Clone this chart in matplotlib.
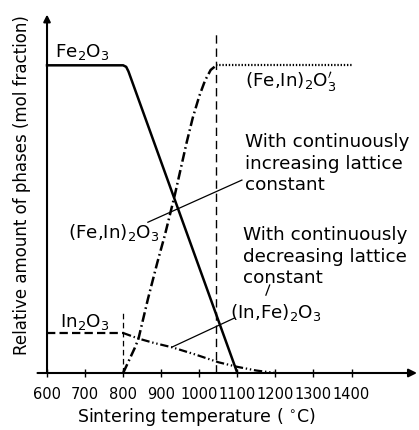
import matplotlib
matplotlib.use('Agg')
import matplotlib.pyplot as plt

plt.rcParams['font.family'] = ['DejaVu Sans']
plt.rcParams['lines.scale_dashes'] = False

# -- data -- #

temp_fe2o3 = [600, 800, 808, 814, 1100]
frac_fe2o3 = [1.0, 1.0, 0.995, 0.98, 0.0]

temp_ss = [800, 815, 830, 840, 865, 890, 910, 936, 967, 983, 1000, 1015, 1030, 1045]
frac_ss = [0.0, 0.04, 0.08, 0.11, 0.24, 0.36, 0.45, 0.58, 0.75, 0.83, 0.90, 0.95, 0.985, 1.0]

temp_ss_top = [1045, 1400]
frac_ss_top = [1.0, 1.0]

temp_in2o3 = [600, 800]
frac_in2o3 = [0.13, 0.13]

temp_in_dec = [800, 840, 880, 930, 990, 1050, 1100, 1150, 1200]
frac_in_dec = [0.13, 0.112, 0.098, 0.083, 0.06, 0.035, 0.02, 0.008, 0.0]

xticks = [600, 700, 800, 900, 1000, 1100, 1200, 1300, 1400]

# ------------------------------ #

fig = plt.figure(figsize=(4.19, 4.30), dpi=100)
ax = fig.add_axes([37.5 / 419, 57 / 430, 379.5 / 419, 360 / 430])
ax.set_xlim(575, 1572)
ax.set_ylim(0, 1.17)
for s in ax.spines.values():
    s.set_visible(False)

# axes with arrows
ax.annotate('', xy=(1572, 0), xytext=(575, 0),
            arrowprops=dict(arrowstyle='-|>', lw=1.5, color='k', mutation_scale=12,
                            shrinkA=0, shrinkB=0))
ax.annotate('', xy=(600, 1.165), xytext=(600, 0),
            arrowprops=dict(arrowstyle='-|>', lw=1.5, color='k', mutation_scale=10,
                            shrinkA=0, shrinkB=0))

ax.set_xticks(xticks)
ax.set_xticklabels([str(t) for t in xticks])
ax.set_yticks([])
ax.tick_params(axis='x', direction='inout', length=6, width=1, pad=7, labelsize=10.5)

# curves
ax.plot(temp_fe2o3, frac_fe2o3, color='k', lw=1.8)
ax.plot(temp_ss, frac_ss, color='k', lw=1.8, linestyle=(0, (7, 2.5, 1.2, 2.5)))
ax.plot(temp_ss_top, frac_ss_top, color='k', lw=1.6, linestyle=(0, (1, 1.3)))
ax.plot(temp_in2o3, frac_in2o3, color='k', lw=1.6, linestyle=(0, (6, 3)))
ax.plot(temp_in_dec, frac_in_dec, color='k', lw=1.6, linestyle=(0, (6, 2, 1, 2, 1, 2)))

# vertical guide lines
ax.plot([800, 800], [0, 0.2], color='k', lw=0.9, linestyle=(0, (4, 2.5)))
ax.plot([1045, 1045], [0, 1.11], color='k', lw=1.0, linestyle=(0, (6, 3.5)))

# leader lines
ax.plot([865, 1112], [0.49, 0.627], color='k', lw=0.9)
ax.plot([1093, 928], [0.179, 0.084], color='k', lw=0.9)
ax.plot([1185, 1175], [0.286, 0.253], color='k', lw=0.9)

# labels
fs = 13.2
ax.text(621, 1.026, 'Fe$_2$O$_3$', fontsize=fs, va='baseline')
ax.text(1120, 0.93, "(Fe,In)$_2$O$_3^{\\prime}$", fontsize=fs, va='baseline')
ax.text(1120, 0.734, 'With continuously', fontsize=fs, va='baseline')
ax.text(1120, 0.662, 'increasing lattice', fontsize=fs, va='baseline')
ax.text(1120, 0.594, 'constant', fontsize=fs, va='baseline')
ax.text(655, 0.44, '(Fe,In)$_2$O$_3$', fontsize=fs, va='baseline')
ax.text(1114, 0.432, 'With continuously', fontsize=fs, va='baseline')
ax.text(1114, 0.360, 'decreasing lattice', fontsize=fs, va='baseline')
ax.text(1114, 0.292, 'constant', fontsize=fs, va='baseline')
ax.text(1080, 0.18, '(In,Fe)$_2$O$_3$', fontsize=fs, va='baseline')
ax.text(634, 0.15, 'In$_2$O$_3$', fontsize=fs, va='baseline')

fig.text(77 / 419, 8 / 430, 'Sintering temperature ( $^{\\circ}$C)', fontsize=12.5,
         ha='left', va='baseline')
fig.text(22 / 419, 0.57, 'Relative amount of phases (mol fraction)', fontsize=12,
         rotation=90, ha='center', va='center')

fig.savefig('out.png', dpi=100)
